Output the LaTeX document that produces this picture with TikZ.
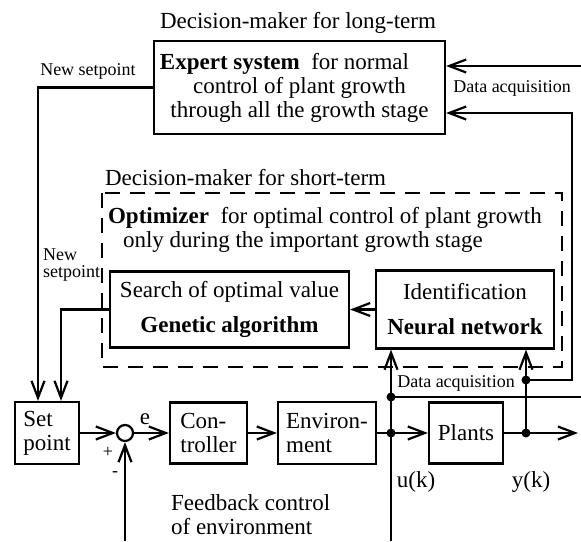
\documentclass[tikz,border=0pt]{standalone}
\usepackage{fontspec}
\setmainfont{Liberation Serif}
\usetikzlibrary{arrows.meta,positioning}
\begin{document}
\begin{tikzpicture}[x=1pt, y=-1pt, line width=2.2pt, >={Straight Barb[length=17pt,width=13pt]},
		font=\fontsize{23}{24}\selectfont,
		blk/.style={draw, inner sep=0pt, align=center},
		lbl/.style={inner sep=0pt, align=left},
		sml/.style={inner sep=0pt, align=left, font=\fontsize{18}{17}\selectfont}]
	\def\xmax{581}\def\ymax{541}
	\useasboundingbox (0,0) rectangle (\xmax,\ymax);
	\node[blk, minimum width=291pt, minimum height=93pt] (expert) at (299.5,87.5) {\textbf{Expert system}~~for normal\hspace*{30pt}\\control of plant growth\\through all the growth stage};
	\node[lbl] (ltitle) at (298,23) {Decision-maker for long-term};
	\node[lbl, anchor=west] (stitle) at (104,178) {Decision-maker for short-term};
	\draw[line width=1.1pt, dash pattern=on 15pt off 10pt] (102,193) rectangle (562,367);
	\node[lbl, anchor=west] (optim) at (107,230) {\textbf{Optimizer}~~for optimal control of plant growth\\\hspace*{15pt}only during the important growth stage};
	\node[blk, minimum width=239pt, minimum height=76pt] (search) at (229.5,309.5) {Search of optimal value\\[11pt]\textbf{Genetic algorithm}};
	\node[blk, minimum width=178pt, minimum height=78pt] (neural) at (465,309.5) {Identification\\[11pt]\textbf{Neural network}};
	\node[blk, align=left, minimum width=64pt, minimum height=62pt] (setpt) at (47,433) {Set\\point};
	\node[blk, circle, minimum size=16pt] (sum) at (125,433) {};
	\node[blk, align=left, minimum width=77pt, minimum height=61pt] (ctrl) at (208.5,433) {Con-\\troller};
	\node[blk, align=left, minimum width=98pt, minimum height=62pt] (env) at (327,433) {Environ-\\ment};
	\node[blk, minimum width=74pt, minimum height=61pt] (plants) at (466,433) {Plants};
	\node[sml] (nsp1) at (88,71) {New setpoint};
	\node[sml, anchor=west] (nsp2) at (42,265) {New\\setpoint};
	\node[sml] (daq1) at (512,88) {Data acquisition};
	\node[sml] (daq2) at (456,383) {Data acquisition};
	\node[lbl] (elbl) at (145,419) {e};
	\node[sml] (plus) at (108,452) {+};
	\node[sml] (minus) at (115,474) {-};
	\node[lbl] (uk) at (416,482) {u(k)};
	\node[lbl] (yk) at (531,482) {y(k)};
	\node[lbl, anchor=west] (fbk) at (170,515) {Feedback control\\of environment};
	\coordinate (ju) at (391,433);
	\coordinate (jd) at (391,397);
	\coordinate (jy) at (526,433);
	\coordinate (jr) at (526,380);
	\coordinate (cr) at (572,113);
	\coordinate (e1) at (\xmax,66);
	\coordinate (e2) at (\xmax,397);
	\coordinate (e3) at (391,\ymax);
	\coordinate (e4) at (125,\ymax);
	\coordinate (out) at (578,433);
	\draw[->] (expert.west) -| ([xshift=-9pt]setpt.north);
	\draw[->] (search.west) -| ([xshift=14pt]setpt.north);
	\draw[->] (neural.west) -- (search.east);
	\draw[->] (setpt.east) -- (sum.west);
	\draw[->] (sum.east) -- (ctrl.west);
	\draw[->] (ctrl.east) -- (env.west);
	\draw[->] (env.east) -- (plants.west);
	\draw[->] (plants.east) -- (out);
	\draw[->] (e3) -- (neural.south -| e3);
	\draw (jd) -- (e2);
	\draw[->] (jy) -- (neural.south -| jy);
	\draw[->] (jr) -| (cr) -- (expert.east |- cr);
	\draw[->] (e1) -- (expert.east |- e1);
	\draw[->] (e4) -- (sum.south);
	\foreach \p in {ju,jd,jy,jr} \fill (\p) circle (4.5pt);
\end{tikzpicture}
\end{document}
